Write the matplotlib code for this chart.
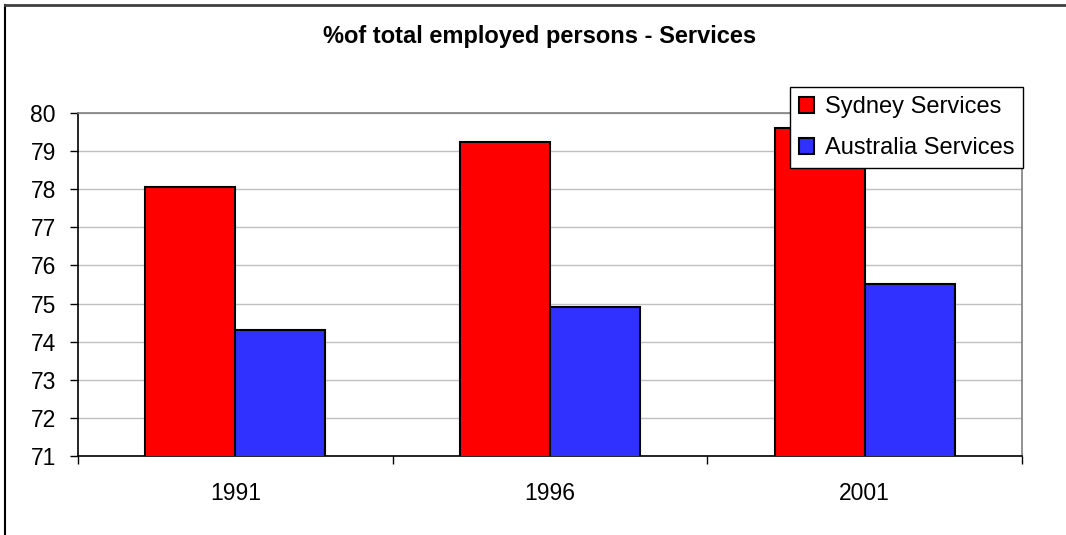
import numpy as np
import matplotlib
matplotlib.use('Agg')
import matplotlib.pyplot as plt
from matplotlib.lines import Line2D

plt.rcParams['font.family'] = ['Liberation Sans', 'DejaVu Sans']

# Share of employed persons working in services (%)
years = ['1991', '1996', '2001']
sydney = [78.05, 79.25, 79.6]
australia = [74.3, 74.9, 75.5]

fig = plt.figure(figsize=(10.66, 5.35), dpi=100)
ax = fig.add_axes([0.0732, 0.1477, 0.8855, 0.6411])

x = np.arange(len(years))
w = 0.286
ax.bar(x - w / 2, sydney, w, color='#FF0000', edgecolor='black', linewidth=1.5,
       label='Sydney Services', zorder=3)
ax.bar(x + w / 2, australia, w, color='#3030FF', edgecolor='black', linewidth=1.5,
       label='Australia Services', zorder=3)

ax.set_xlim(-0.5, len(years) - 0.5)
ax.set_ylim(71, 80)
ax.set_yticks(range(71, 81))
ax.yaxis.grid(True, color='#C0C0C0', linewidth=1, zorder=0)

# category labels in the middle, tick marks between the groups
ax.set_xticks(x)
ax.set_xticklabels(years)
ax.set_xticks(np.arange(-0.5, len(years)), minor=True)
ax.tick_params(axis='x', which='major', length=0, pad=19, labelsize=16.5)
ax.tick_params(axis='x', which='minor', length=6, width=1, direction='out')
ax.tick_params(axis='y', length=6, width=1, direction='out', pad=10, labelsize=16.5)

for side in ['top', 'right']:
    ax.spines[side].set_color('#808080')
    ax.spines[side].set_linewidth(1.2)
for side in ['left', 'bottom']:
    ax.spines[side].set_color('black')
    ax.spines[side].set_linewidth(1.2)

fig.text(0.506, 0.931, '%of total employed persons - Services', ha='center', va='center',
         fontsize=17, fontweight='bold')

leg = ax.legend(loc='upper left', bbox_to_anchor=(0.741, 0.837), bbox_transform=fig.transFigure,
                borderaxespad=0, fontsize=17, frameon=True, fancybox=False, framealpha=1,
                handlelength=0.65, handleheight=0.65, handletextpad=0.45,
                borderpad=0.38, labelspacing=0.8)
leg.get_frame().set_edgecolor('black')
leg.get_frame().set_linewidth(1)
leg.set_zorder(5)

# chart frame along the left and top edges
fig.add_artist(Line2D([0.0047, 0.0047], [0, 0.9907], color='black', linewidth=1.5))
fig.add_artist(Line2D([0.0047, 1], [0.9907, 0.9907], color='#404040', linewidth=2))

fig.savefig('out.png', dpi=100)
